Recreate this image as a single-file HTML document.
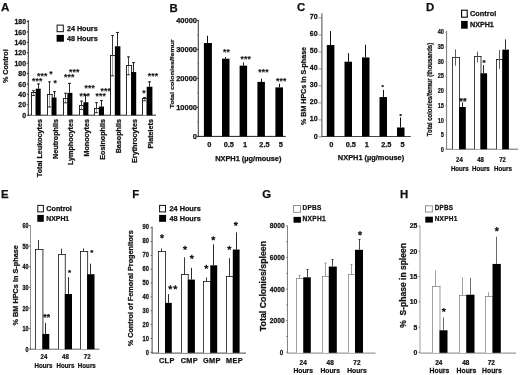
<!DOCTYPE html>
<html><head><meta charset="utf-8"><title>Figure</title>
<style>
html,body{margin:0;padding:0;background:#fff;}
body{width:520px;height:375px;overflow:hidden;font-family:"Liberation Sans",sans-serif;}
svg{display:block;font-family:"Liberation Sans",sans-serif;filter:blur(0.35px);}
</style></head><body>
<svg width="520" height="375" viewBox="0 0 520 375">
<rect x="0" y="0" width="520" height="375" fill="#fff"/>
<text transform="translate(0.90,11.40)" font-size="11.6" text-anchor="start" fill="#111" font-weight="bold" stroke="#111" stroke-width="0.25">A</text>
<line x1="28.30" y1="20.00" x2="28.30" y2="115.70" stroke="#111" stroke-width="0.9"/>
<line x1="27.90" y1="115.20" x2="156.00" y2="115.20" stroke="#111" stroke-width="0.9"/>
<line x1="26.80" y1="115.20" x2="28.30" y2="115.20" stroke="#111" stroke-width="0.8"/>
<text transform="translate(26.00,117.80) scale(0.96,1.0)" font-size="7.2" text-anchor="end" fill="#111" font-weight="bold" stroke="#111" stroke-width="0.25">0</text>
<line x1="26.80" y1="104.80" x2="28.30" y2="104.80" stroke="#111" stroke-width="0.8"/>
<text transform="translate(26.00,107.40) scale(0.96,1.0)" font-size="7.2" text-anchor="end" fill="#111" font-weight="bold" stroke="#111" stroke-width="0.25">20</text>
<line x1="26.80" y1="94.40" x2="28.30" y2="94.40" stroke="#111" stroke-width="0.8"/>
<text transform="translate(26.00,97.00) scale(0.96,1.0)" font-size="7.2" text-anchor="end" fill="#111" font-weight="bold" stroke="#111" stroke-width="0.25">40</text>
<line x1="26.80" y1="84.00" x2="28.30" y2="84.00" stroke="#111" stroke-width="0.8"/>
<text transform="translate(26.00,86.60) scale(0.96,1.0)" font-size="7.2" text-anchor="end" fill="#111" font-weight="bold" stroke="#111" stroke-width="0.25">60</text>
<line x1="26.80" y1="73.60" x2="28.30" y2="73.60" stroke="#111" stroke-width="0.8"/>
<text transform="translate(26.00,76.20) scale(0.96,1.0)" font-size="7.2" text-anchor="end" fill="#111" font-weight="bold" stroke="#111" stroke-width="0.25">80</text>
<line x1="26.80" y1="63.20" x2="28.30" y2="63.20" stroke="#111" stroke-width="0.8"/>
<text transform="translate(26.00,65.80) scale(0.96,1.0)" font-size="7.2" text-anchor="end" fill="#111" font-weight="bold" stroke="#111" stroke-width="0.25">100</text>
<line x1="26.80" y1="52.80" x2="28.30" y2="52.80" stroke="#111" stroke-width="0.8"/>
<text transform="translate(26.00,55.40) scale(0.96,1.0)" font-size="7.2" text-anchor="end" fill="#111" font-weight="bold" stroke="#111" stroke-width="0.25">120</text>
<line x1="26.80" y1="42.40" x2="28.30" y2="42.40" stroke="#111" stroke-width="0.8"/>
<text transform="translate(26.00,45.00) scale(0.96,1.0)" font-size="7.2" text-anchor="end" fill="#111" font-weight="bold" stroke="#111" stroke-width="0.25">140</text>
<line x1="26.80" y1="32.00" x2="28.30" y2="32.00" stroke="#111" stroke-width="0.8"/>
<text transform="translate(26.00,34.60) scale(0.96,1.0)" font-size="7.2" text-anchor="end" fill="#111" font-weight="bold" stroke="#111" stroke-width="0.25">160</text>
<line x1="26.80" y1="21.60" x2="28.30" y2="21.60" stroke="#111" stroke-width="0.8"/>
<text transform="translate(26.00,24.20) scale(0.96,1.0)" font-size="7.2" text-anchor="end" fill="#111" font-weight="bold" stroke="#111" stroke-width="0.25">180</text>
<text transform="translate(7.80,66.20) rotate(-90)" font-size="7.15" text-anchor="middle" fill="#111" font-weight="bold" stroke="#111" stroke-width="0.25">% Control</text>
<rect x="57.10" y="25.10" width="6.20" height="6.60" fill="#fff" stroke="#111" stroke-width="1.0"/>
<text transform="translate(66.90,30.90)" font-size="7.2" text-anchor="start" fill="#111" font-weight="bold" stroke="#111" stroke-width="0.25">24 Hours</text>
<rect x="56.60" y="34.90" width="7.30" height="6.80" fill="#000"/>
<text transform="translate(66.90,40.90)" font-size="7.2" text-anchor="start" fill="#111" font-weight="bold" stroke="#111" stroke-width="0.25">48 Hours</text>
<rect x="31.00" y="92.50" width="5.20" height="22.70" fill="#fff"/>
<line x1="31.50" y1="92.05" x2="31.50" y2="115.20" stroke="#111" stroke-width="0.9"/>
<line x1="31.00" y1="92.50" x2="36.70" y2="92.50" stroke="#111" stroke-width="0.9"/>
<line x1="36.20" y1="92.05" x2="36.20" y2="115.20" stroke="#111" stroke-width="0.9"/>
<rect x="35.70" y="88.68" width="5.00" height="26.52" fill="#000"/>
<line x1="33.50" y1="90.24" x2="33.50" y2="93.00" stroke="#222" stroke-width="0.9"/>
<line x1="33.50" y1="93.00" x2="33.50" y2="95.96" stroke="#555" stroke-width="0.6"/>
<line x1="32.00" y1="90.69" x2="35.00" y2="90.69" stroke="#222" stroke-width="0.9"/>
<line x1="32.00" y1="95.51" x2="35.00" y2="95.51" stroke="#222" stroke-width="0.9"/>
<line x1="38.50" y1="83.48" x2="38.50" y2="88.68" stroke="#111" stroke-width="0.9"/>
<line x1="37.00" y1="83.93" x2="40.00" y2="83.93" stroke="#111" stroke-width="0.9"/>
<text transform="translate(41.55,119.00) rotate(-90)" font-size="7.2" text-anchor="end" fill="#111" font-weight="bold" stroke="#111" stroke-width="0.25">Total Leukocytes</text>
<rect x="47.00" y="94.50" width="5.20" height="20.70" fill="#fff"/>
<line x1="47.50" y1="94.05" x2="47.50" y2="115.20" stroke="#111" stroke-width="0.9"/>
<line x1="47.00" y1="94.50" x2="52.70" y2="94.50" stroke="#111" stroke-width="0.9"/>
<line x1="52.20" y1="94.05" x2="52.20" y2="115.20" stroke="#111" stroke-width="0.9"/>
<rect x="51.70" y="97.52" width="4.80" height="17.68" fill="#000"/>
<line x1="49.50" y1="81.40" x2="49.50" y2="94.40" stroke="#222" stroke-width="0.9"/>
<line x1="49.50" y1="94.40" x2="49.50" y2="107.40" stroke="#555" stroke-width="0.6"/>
<line x1="48.00" y1="81.85" x2="51.00" y2="81.85" stroke="#222" stroke-width="0.9"/>
<line x1="48.00" y1="106.95" x2="51.00" y2="106.95" stroke="#222" stroke-width="0.9"/>
<line x1="54.50" y1="91.28" x2="54.50" y2="97.52" stroke="#111" stroke-width="0.9"/>
<line x1="53.00" y1="91.73" x2="56.00" y2="91.73" stroke="#111" stroke-width="0.9"/>
<text transform="translate(57.55,119.00) rotate(-90)" font-size="7.2" text-anchor="end" fill="#111" font-weight="bold" stroke="#111" stroke-width="0.25">Neutrophils</text>
<rect x="63.00" y="98.50" width="4.90" height="16.70" fill="#fff"/>
<line x1="63.50" y1="98.05" x2="63.50" y2="115.20" stroke="#111" stroke-width="0.9"/>
<line x1="63.00" y1="98.50" x2="68.40" y2="98.50" stroke="#111" stroke-width="0.9"/>
<line x1="67.90" y1="98.05" x2="67.90" y2="115.20" stroke="#111" stroke-width="0.9"/>
<rect x="67.40" y="92.84" width="5.00" height="22.36" fill="#000"/>
<line x1="65.50" y1="92.84" x2="65.50" y2="98.04" stroke="#222" stroke-width="0.9"/>
<line x1="65.50" y1="98.04" x2="65.50" y2="103.24" stroke="#555" stroke-width="0.6"/>
<line x1="64.00" y1="93.29" x2="67.00" y2="93.29" stroke="#222" stroke-width="0.9"/>
<line x1="64.00" y1="102.79" x2="67.00" y2="102.79" stroke="#222" stroke-width="0.9"/>
<line x1="69.50" y1="82.96" x2="69.50" y2="92.84" stroke="#111" stroke-width="0.9"/>
<line x1="68.00" y1="83.41" x2="71.00" y2="83.41" stroke="#111" stroke-width="0.9"/>
<text transform="translate(73.30,119.00) rotate(-90)" font-size="7.2" text-anchor="end" fill="#111" font-weight="bold" stroke="#111" stroke-width="0.25">Lymphocytes</text>
<rect x="79.00" y="105.50" width="4.90" height="9.70" fill="#fff"/>
<line x1="79.50" y1="105.05" x2="79.50" y2="115.20" stroke="#111" stroke-width="0.9"/>
<line x1="79.00" y1="105.50" x2="84.40" y2="105.50" stroke="#111" stroke-width="0.9"/>
<line x1="83.90" y1="105.05" x2="83.90" y2="115.20" stroke="#111" stroke-width="0.9"/>
<rect x="83.40" y="102.20" width="5.00" height="13.00" fill="#000"/>
<line x1="81.50" y1="100.64" x2="81.50" y2="105.01" stroke="#222" stroke-width="0.9"/>
<line x1="81.50" y1="105.01" x2="81.50" y2="110.00" stroke="#555" stroke-width="0.6"/>
<line x1="80.00" y1="101.09" x2="83.00" y2="101.09" stroke="#222" stroke-width="0.9"/>
<line x1="80.00" y1="109.55" x2="83.00" y2="109.55" stroke="#222" stroke-width="0.9"/>
<line x1="85.50" y1="94.92" x2="85.50" y2="102.20" stroke="#111" stroke-width="0.9"/>
<line x1="84.00" y1="95.37" x2="87.00" y2="95.37" stroke="#111" stroke-width="0.9"/>
<text transform="translate(89.30,119.00) rotate(-90)" font-size="7.2" text-anchor="end" fill="#111" font-weight="bold" stroke="#111" stroke-width="0.25">Monocytes</text>
<rect x="94.00" y="108.50" width="5.40" height="6.70" fill="#fff"/>
<line x1="94.50" y1="108.05" x2="94.50" y2="115.20" stroke="#111" stroke-width="0.9"/>
<line x1="94.00" y1="108.50" x2="99.90" y2="108.50" stroke="#111" stroke-width="0.9"/>
<line x1="99.40" y1="108.05" x2="99.40" y2="115.20" stroke="#111" stroke-width="0.9"/>
<rect x="98.90" y="106.52" width="5.10" height="8.68" fill="#000"/>
<line x1="96.50" y1="102.20" x2="96.50" y2="108.44" stroke="#222" stroke-width="0.9"/>
<line x1="96.50" y1="108.44" x2="96.50" y2="113.12" stroke="#555" stroke-width="0.6"/>
<line x1="95.00" y1="102.65" x2="98.00" y2="102.65" stroke="#222" stroke-width="0.9"/>
<line x1="95.00" y1="112.67" x2="98.00" y2="112.67" stroke="#222" stroke-width="0.9"/>
<line x1="101.50" y1="100.12" x2="101.50" y2="106.52" stroke="#111" stroke-width="0.9"/>
<line x1="100.00" y1="100.57" x2="103.00" y2="100.57" stroke="#111" stroke-width="0.9"/>
<text transform="translate(104.85,119.00) rotate(-90)" font-size="7.2" text-anchor="end" fill="#111" font-weight="bold" stroke="#111" stroke-width="0.25">Eosinophils</text>
<rect x="110.00" y="55.50" width="5.40" height="59.70" fill="#fff"/>
<line x1="110.50" y1="55.05" x2="110.50" y2="115.20" stroke="#111" stroke-width="0.9"/>
<line x1="110.00" y1="55.50" x2="115.90" y2="55.50" stroke="#111" stroke-width="0.9"/>
<line x1="115.40" y1="55.05" x2="115.40" y2="115.20" stroke="#111" stroke-width="0.9"/>
<rect x="114.90" y="46.25" width="5.50" height="68.95" fill="#000"/>
<line x1="112.50" y1="35.12" x2="112.50" y2="55.40" stroke="#222" stroke-width="0.9"/>
<line x1="112.50" y1="55.40" x2="112.50" y2="76.20" stroke="#555" stroke-width="0.6"/>
<line x1="111.00" y1="35.57" x2="114.00" y2="35.57" stroke="#222" stroke-width="0.9"/>
<line x1="111.00" y1="75.75" x2="114.00" y2="75.75" stroke="#222" stroke-width="0.9"/>
<line x1="117.50" y1="32.00" x2="117.50" y2="46.25" stroke="#111" stroke-width="0.9"/>
<line x1="116.00" y1="32.45" x2="119.00" y2="32.45" stroke="#111" stroke-width="0.9"/>
<text transform="translate(121.05,119.00) rotate(-90)" font-size="7.2" text-anchor="end" fill="#111" font-weight="bold" stroke="#111" stroke-width="0.25">Basophils</text>
<rect x="126.00" y="65.50" width="5.60" height="49.70" fill="#fff"/>
<line x1="126.50" y1="65.05" x2="126.50" y2="115.20" stroke="#111" stroke-width="0.9"/>
<line x1="126.00" y1="65.50" x2="132.10" y2="65.50" stroke="#111" stroke-width="0.9"/>
<line x1="131.60" y1="65.05" x2="131.60" y2="115.20" stroke="#111" stroke-width="0.9"/>
<rect x="131.10" y="72.04" width="5.10" height="43.16" fill="#000"/>
<line x1="128.50" y1="56.44" x2="128.50" y2="65.80" stroke="#222" stroke-width="0.9"/>
<line x1="128.50" y1="65.80" x2="128.50" y2="75.16" stroke="#555" stroke-width="0.6"/>
<line x1="127.00" y1="56.89" x2="130.00" y2="56.89" stroke="#222" stroke-width="0.9"/>
<line x1="127.00" y1="74.71" x2="130.00" y2="74.71" stroke="#222" stroke-width="0.9"/>
<line x1="133.50" y1="62.16" x2="133.50" y2="72.04" stroke="#111" stroke-width="0.9"/>
<line x1="132.00" y1="62.61" x2="135.00" y2="62.61" stroke="#111" stroke-width="0.9"/>
<text transform="translate(136.85,119.00) rotate(-90)" font-size="7.2" text-anchor="end" fill="#111" font-weight="bold" stroke="#111" stroke-width="0.25">Erythrocytes</text>
<rect x="142.00" y="98.50" width="5.20" height="16.70" fill="#fff"/>
<line x1="142.50" y1="98.05" x2="142.50" y2="115.20" stroke="#111" stroke-width="0.9"/>
<line x1="142.00" y1="98.50" x2="147.70" y2="98.50" stroke="#111" stroke-width="0.9"/>
<line x1="147.20" y1="98.05" x2="147.20" y2="115.20" stroke="#111" stroke-width="0.9"/>
<rect x="146.70" y="86.76" width="5.70" height="28.44" fill="#000"/>
<line x1="144.50" y1="97.00" x2="144.50" y2="98.77" stroke="#222" stroke-width="0.9"/>
<line x1="144.50" y1="98.77" x2="144.50" y2="101.16" stroke="#555" stroke-width="0.6"/>
<line x1="143.00" y1="97.45" x2="146.00" y2="97.45" stroke="#222" stroke-width="0.9"/>
<line x1="143.00" y1="100.71" x2="146.00" y2="100.71" stroke="#222" stroke-width="0.9"/>
<line x1="149.50" y1="81.40" x2="149.50" y2="86.76" stroke="#111" stroke-width="0.9"/>
<line x1="148.00" y1="81.85" x2="151.00" y2="81.85" stroke="#111" stroke-width="0.9"/>
<text transform="translate(152.80,119.00) rotate(-90)" font-size="7.2" text-anchor="end" fill="#111" font-weight="bold" stroke="#111" stroke-width="0.25">Platelets</text>
<text transform="translate(32.00,83.50)" font-size="8.5" text-anchor="start" fill="#111" font-weight="bold" letter-spacing="0.2" stroke="#111" stroke-width="0.1">***</text>
<text transform="translate(37.00,79.30)" font-size="8.5" text-anchor="start" fill="#111" font-weight="bold" letter-spacing="0.2" stroke="#111" stroke-width="0.1">***</text>
<text transform="translate(49.20,77.30)" font-size="8.5" text-anchor="start" fill="#111" font-weight="bold" letter-spacing="0.2" stroke="#111" stroke-width="0.1">*</text>
<text transform="translate(53.50,86.00)" font-size="8.5" text-anchor="start" fill="#111" font-weight="bold" letter-spacing="0.2" stroke="#111" stroke-width="0.1">*</text>
<text transform="translate(64.00,79.50)" font-size="8.5" text-anchor="start" fill="#111" font-weight="bold" letter-spacing="0.2" stroke="#111" stroke-width="0.1">***</text>
<text transform="translate(69.00,74.50)" font-size="8.5" text-anchor="start" fill="#111" font-weight="bold" letter-spacing="0.2" stroke="#111" stroke-width="0.1">***</text>
<text transform="translate(79.50,98.50)" font-size="8.5" text-anchor="start" fill="#111" font-weight="bold" letter-spacing="0.2" stroke="#111" stroke-width="0.1">***</text>
<text transform="translate(84.50,90.50)" font-size="8.5" text-anchor="start" fill="#111" font-weight="bold" letter-spacing="0.2" stroke="#111" stroke-width="0.1">***</text>
<text transform="translate(95.50,98.50)" font-size="8.5" text-anchor="start" fill="#111" font-weight="bold" letter-spacing="0.2" stroke="#111" stroke-width="0.1">***</text>
<text transform="translate(100.50,94.00)" font-size="8.5" text-anchor="start" fill="#111" font-weight="bold" letter-spacing="0.2" stroke="#111" stroke-width="0.1">***</text>
<text transform="translate(142.20,95.50)" font-size="8.5" text-anchor="start" fill="#111" font-weight="bold" letter-spacing="0.2" stroke="#111" stroke-width="0.1">*</text>
<text transform="translate(147.80,79.00)" font-size="8.5" text-anchor="start" fill="#111" font-weight="bold" letter-spacing="0.2" stroke="#111" stroke-width="0.1">***</text>
<text transform="translate(169.60,11.80)" font-size="11.4" text-anchor="start" fill="#111" font-weight="bold" stroke="#111" stroke-width="0.25">B</text>
<line x1="198.30" y1="20.00" x2="198.30" y2="136.90" stroke="#444" stroke-width="1.1"/>
<line x1="197.90" y1="136.40" x2="285.80" y2="136.40" stroke="#222" stroke-width="1.0"/>
<line x1="196.80" y1="136.40" x2="198.30" y2="136.40" stroke="#111" stroke-width="0.8"/>
<text transform="translate(197.00,138.50)" font-size="7.5" text-anchor="end" fill="#111" font-weight="bold" stroke="#111" stroke-width="0.25">0</text>
<line x1="196.80" y1="107.40" x2="198.30" y2="107.40" stroke="#111" stroke-width="0.8"/>
<text transform="translate(197.00,109.50)" font-size="7.5" text-anchor="end" fill="#111" font-weight="bold" stroke="#111" stroke-width="0.25">10000</text>
<line x1="196.80" y1="78.40" x2="198.30" y2="78.40" stroke="#111" stroke-width="0.8"/>
<text transform="translate(197.00,80.50)" font-size="7.5" text-anchor="end" fill="#111" font-weight="bold" stroke="#111" stroke-width="0.25">20000</text>
<line x1="196.80" y1="49.40" x2="198.30" y2="49.40" stroke="#111" stroke-width="0.8"/>
<text transform="translate(197.00,51.50)" font-size="7.5" text-anchor="end" fill="#111" font-weight="bold" stroke="#111" stroke-width="0.25">30000</text>
<line x1="196.80" y1="20.40" x2="198.30" y2="20.40" stroke="#111" stroke-width="0.8"/>
<text transform="translate(197.00,22.50)" font-size="7.5" text-anchor="end" fill="#111" font-weight="bold" stroke="#111" stroke-width="0.25">40000</text>
<line x1="197.10" y1="121.90" x2="198.30" y2="121.90" stroke="#555" stroke-width="0.6"/>
<line x1="197.10" y1="92.90" x2="198.30" y2="92.90" stroke="#555" stroke-width="0.6"/>
<line x1="197.10" y1="63.90" x2="198.30" y2="63.90" stroke="#555" stroke-width="0.6"/>
<line x1="197.10" y1="34.90" x2="198.30" y2="34.90" stroke="#555" stroke-width="0.6"/>
<text transform="translate(174.00,73.90) rotate(-90) scale(0.95,0.8)" font-size="7.5" text-anchor="middle" fill="#111" font-weight="bold" stroke="#111" stroke-width="0.25">Total colonies/femur</text>
<rect x="203.90" y="43.02" width="8.00" height="93.38" fill="#000"/>
<line x1="207.50" y1="35.77" x2="207.50" y2="43.02" stroke="#111" stroke-width="1.0"/>
<rect x="222.00" y="58.68" width="7.50" height="77.72" fill="#000"/>
<line x1="225.50" y1="56.94" x2="225.50" y2="58.68" stroke="#111" stroke-width="1.0"/>
<rect x="239.60" y="65.64" width="7.50" height="70.76" fill="#000"/>
<line x1="243.50" y1="62.45" x2="243.50" y2="65.64" stroke="#111" stroke-width="1.0"/>
<rect x="257.40" y="81.88" width="7.50" height="54.52" fill="#000"/>
<line x1="261.50" y1="78.69" x2="261.50" y2="81.88" stroke="#111" stroke-width="1.0"/>
<rect x="275.40" y="87.39" width="7.60" height="49.01" fill="#000"/>
<line x1="279.50" y1="83.77" x2="279.50" y2="87.39" stroke="#111" stroke-width="1.0"/>
<text transform="translate(223.00,54.50)" font-size="8.5" text-anchor="start" fill="#111" font-weight="bold" letter-spacing="0.2" stroke="#111" stroke-width="0.1">**</text>
<text transform="translate(240.50,62.00)" font-size="8.5" text-anchor="start" fill="#111" font-weight="bold" letter-spacing="0.2" stroke="#111" stroke-width="0.1">***</text>
<text transform="translate(258.30,75.00)" font-size="8.5" text-anchor="start" fill="#111" font-weight="bold" letter-spacing="0.2" stroke="#111" stroke-width="0.1">***</text>
<text transform="translate(276.00,84.00)" font-size="8.5" text-anchor="start" fill="#111" font-weight="bold" letter-spacing="0.2" stroke="#111" stroke-width="0.1">***</text>
<text transform="translate(209.30,146.90)" font-size="7.4" text-anchor="middle" fill="#111" font-weight="bold" stroke="#111" stroke-width="0.25">0</text>
<text transform="translate(228.80,146.90)" font-size="7.4" text-anchor="middle" fill="#111" font-weight="bold" stroke="#111" stroke-width="0.25">0.5</text>
<text transform="translate(245.00,146.90)" font-size="7.4" text-anchor="middle" fill="#111" font-weight="bold" stroke="#111" stroke-width="0.25">1</text>
<text transform="translate(264.50,146.90)" font-size="7.4" text-anchor="middle" fill="#111" font-weight="bold" stroke="#111" stroke-width="0.25">2.5</text>
<text transform="translate(280.80,146.90)" font-size="7.4" text-anchor="middle" fill="#111" font-weight="bold" stroke="#111" stroke-width="0.25">5</text>
<text transform="translate(248.30,160.50)" font-size="7.4" text-anchor="middle" fill="#111" font-weight="bold" stroke="#111" stroke-width="0.25">NXPH1 (µg/mouse)</text>
<text transform="translate(297.00,11.40)" font-size="11.4" text-anchor="start" fill="#111" font-weight="bold" stroke="#111" stroke-width="0.25">C</text>
<line x1="321.90" y1="13.20" x2="321.90" y2="137.00" stroke="#333" stroke-width="0.9"/>
<line x1="321.50" y1="136.50" x2="410.80" y2="136.50" stroke="#333" stroke-width="0.9"/>
<line x1="318.40" y1="136.90" x2="321.90" y2="136.90" stroke="#666" stroke-width="0.7"/>
<text transform="translate(317.60,138.50) scale(0.95,1.0)" font-size="7.4" text-anchor="end" fill="#111" font-weight="bold" stroke="#111" stroke-width="0.25">0</text>
<line x1="318.40" y1="119.90" x2="321.90" y2="119.90" stroke="#666" stroke-width="0.7"/>
<text transform="translate(317.60,121.47) scale(0.95,1.0)" font-size="7.4" text-anchor="end" fill="#111" font-weight="bold" stroke="#111" stroke-width="0.25">10</text>
<line x1="318.40" y1="102.90" x2="321.90" y2="102.90" stroke="#666" stroke-width="0.7"/>
<text transform="translate(317.60,104.44) scale(0.95,1.0)" font-size="7.4" text-anchor="end" fill="#111" font-weight="bold" stroke="#111" stroke-width="0.25">20</text>
<line x1="318.40" y1="85.90" x2="321.90" y2="85.90" stroke="#666" stroke-width="0.7"/>
<text transform="translate(317.60,87.41) scale(0.95,1.0)" font-size="7.4" text-anchor="end" fill="#111" font-weight="bold" stroke="#111" stroke-width="0.25">30</text>
<line x1="318.40" y1="68.90" x2="321.90" y2="68.90" stroke="#666" stroke-width="0.7"/>
<text transform="translate(317.60,70.38) scale(0.95,1.0)" font-size="7.4" text-anchor="end" fill="#111" font-weight="bold" stroke="#111" stroke-width="0.25">40</text>
<line x1="318.40" y1="51.90" x2="321.90" y2="51.90" stroke="#666" stroke-width="0.7"/>
<text transform="translate(317.60,53.35) scale(0.95,1.0)" font-size="7.4" text-anchor="end" fill="#111" font-weight="bold" stroke="#111" stroke-width="0.25">50</text>
<line x1="318.40" y1="34.90" x2="321.90" y2="34.90" stroke="#666" stroke-width="0.7"/>
<text transform="translate(317.60,36.32) scale(0.95,1.0)" font-size="7.4" text-anchor="end" fill="#111" font-weight="bold" stroke="#111" stroke-width="0.25">60</text>
<line x1="318.40" y1="17.90" x2="321.90" y2="17.90" stroke="#666" stroke-width="0.7"/>
<text transform="translate(317.60,19.29) scale(0.95,1.0)" font-size="7.4" text-anchor="end" fill="#111" font-weight="bold" stroke="#111" stroke-width="0.25">70</text>
<text transform="translate(306.30,86.00) rotate(-90)" font-size="7.1" text-anchor="middle" fill="#111" font-weight="bold" stroke="#111" stroke-width="0.25">% BM HPCs in S-phase</text>
<rect x="326.80" y="45.04" width="7.60" height="91.46" fill="#000"/>
<line x1="330.50" y1="31.10" x2="330.50" y2="45.04" stroke="#111" stroke-width="1.0"/>
<rect x="344.50" y="61.70" width="7.50" height="74.80" fill="#000"/>
<line x1="348.50" y1="53.20" x2="348.50" y2="61.70" stroke="#111" stroke-width="1.0"/>
<rect x="362.00" y="57.45" width="7.50" height="79.05" fill="#000"/>
<line x1="365.50" y1="44.70" x2="365.50" y2="57.45" stroke="#111" stroke-width="1.0"/>
<rect x="379.50" y="97.06" width="7.50" height="39.44" fill="#000"/>
<line x1="383.50" y1="89.92" x2="383.50" y2="97.06" stroke="#111" stroke-width="1.0"/>
<rect x="397.00" y="127.49" width="7.50" height="9.01" fill="#000"/>
<line x1="400.50" y1="117.46" x2="400.50" y2="127.49" stroke="#111" stroke-width="1.0"/>
<text transform="translate(382.60,88.50)" font-size="6" text-anchor="middle" fill="#111" font-weight="bold" stroke="#111" stroke-width="0.25">*</text>
<text transform="translate(400.60,118.00)" font-size="6" text-anchor="middle" fill="#111" font-weight="bold" stroke="#111" stroke-width="0.25">*</text>
<text transform="translate(331.30,146.60)" font-size="7.4" text-anchor="middle" fill="#111" font-weight="bold" stroke="#111" stroke-width="0.25">0</text>
<text transform="translate(350.80,146.60)" font-size="7.4" text-anchor="middle" fill="#111" font-weight="bold" stroke="#111" stroke-width="0.25">0.5</text>
<text transform="translate(366.80,146.60)" font-size="7.4" text-anchor="middle" fill="#111" font-weight="bold" stroke="#111" stroke-width="0.25">1</text>
<text transform="translate(386.30,146.60)" font-size="7.4" text-anchor="middle" fill="#111" font-weight="bold" stroke="#111" stroke-width="0.25">2.5</text>
<text transform="translate(402.50,146.60)" font-size="7.4" text-anchor="middle" fill="#111" font-weight="bold" stroke="#111" stroke-width="0.25">5</text>
<text transform="translate(371.00,160.20)" font-size="7.4" text-anchor="middle" fill="#111" font-weight="bold" stroke="#111" stroke-width="0.25">NXPH1 (µg/mouse)</text>
<text transform="translate(426.10,11.30)" font-size="11.4" text-anchor="start" fill="#111" font-weight="bold" stroke="#111" stroke-width="0.25">D</text>
<line x1="446.60" y1="31.00" x2="446.60" y2="149.70" stroke="#666" stroke-width="0.9"/>
<line x1="446.20" y1="149.20" x2="518.00" y2="149.20" stroke="#555" stroke-width="0.9"/>
<line x1="445.10" y1="149.20" x2="446.60" y2="149.20" stroke="#999" stroke-width="0.6"/>
<text transform="translate(443.90,152.10) scale(0.72,1.0)" font-size="7.8" text-anchor="end" fill="#111" font-weight="bold" stroke="#111" stroke-width="0.25">0</text>
<line x1="445.10" y1="134.60" x2="446.60" y2="134.60" stroke="#999" stroke-width="0.6"/>
<text transform="translate(443.90,137.35) scale(0.72,1.0)" font-size="7.8" text-anchor="end" fill="#111" font-weight="bold" stroke="#111" stroke-width="0.25">5</text>
<line x1="445.10" y1="120.00" x2="446.60" y2="120.00" stroke="#999" stroke-width="0.6"/>
<text transform="translate(443.90,122.60) scale(0.72,1.0)" font-size="7.8" text-anchor="end" fill="#111" font-weight="bold" stroke="#111" stroke-width="0.25">10</text>
<line x1="445.10" y1="105.40" x2="446.60" y2="105.40" stroke="#999" stroke-width="0.6"/>
<text transform="translate(443.90,107.85) scale(0.72,1.0)" font-size="7.8" text-anchor="end" fill="#111" font-weight="bold" stroke="#111" stroke-width="0.25">15</text>
<line x1="445.10" y1="90.80" x2="446.60" y2="90.80" stroke="#999" stroke-width="0.6"/>
<text transform="translate(443.90,93.10) scale(0.72,1.0)" font-size="7.8" text-anchor="end" fill="#111" font-weight="bold" stroke="#111" stroke-width="0.25">20</text>
<line x1="445.10" y1="76.20" x2="446.60" y2="76.20" stroke="#999" stroke-width="0.6"/>
<text transform="translate(443.90,78.35) scale(0.72,1.0)" font-size="7.8" text-anchor="end" fill="#111" font-weight="bold" stroke="#111" stroke-width="0.25">25</text>
<line x1="445.10" y1="61.60" x2="446.60" y2="61.60" stroke="#999" stroke-width="0.6"/>
<text transform="translate(443.90,63.60) scale(0.72,1.0)" font-size="7.8" text-anchor="end" fill="#111" font-weight="bold" stroke="#111" stroke-width="0.25">30</text>
<line x1="445.10" y1="47.00" x2="446.60" y2="47.00" stroke="#999" stroke-width="0.6"/>
<text transform="translate(443.90,48.85) scale(0.72,1.0)" font-size="7.8" text-anchor="end" fill="#111" font-weight="bold" stroke="#111" stroke-width="0.25">35</text>
<line x1="445.10" y1="32.40" x2="446.60" y2="32.40" stroke="#999" stroke-width="0.6"/>
<text transform="translate(443.90,34.10) scale(0.72,1.0)" font-size="7.8" text-anchor="end" fill="#111" font-weight="bold" stroke="#111" stroke-width="0.25">40</text>
<text transform="translate(432.40,89.50) rotate(-90) scale(0.85,1.0)" font-size="7" text-anchor="middle" fill="#111" font-weight="bold" stroke="#111" stroke-width="0.25">Total colonies/femur (thousands)</text>
<rect x="461.60" y="10.20" width="5.60" height="7.00" fill="#fff" stroke="#000" stroke-width="1.1"/>
<text transform="translate(470.00,16.10)" font-size="7.4" text-anchor="start" fill="#111" font-weight="bold" stroke="#111" stroke-width="0.25">Control</text>
<rect x="461.10" y="20.90" width="6.60" height="7.80" fill="#000"/>
<text transform="translate(470.00,26.90) scale(1.02,1.0)" font-size="7.0" text-anchor="start" fill="#111" font-weight="bold" stroke="#111" stroke-width="0.25">NXPH1</text>
<rect x="452.00" y="57.50" width="7.50" height="91.70" fill="#fff"/>
<line x1="452.50" y1="57.10" x2="452.50" y2="149.20" stroke="#111" stroke-width="0.8"/>
<line x1="452.00" y1="57.50" x2="460.00" y2="57.50" stroke="#111" stroke-width="0.8"/>
<line x1="459.50" y1="57.10" x2="459.50" y2="149.20" stroke="#111" stroke-width="0.8"/>
<rect x="459.00" y="107.01" width="6.80" height="42.19" fill="#000"/>
<line x1="455.50" y1="49.34" x2="455.50" y2="65.69" stroke="#333" stroke-width="0.8"/>
<line x1="462.50" y1="102.48" x2="462.50" y2="107.01" stroke="#111" stroke-width="0.9"/>
<rect x="474.00" y="56.50" width="7.00" height="92.70" fill="#fff"/>
<line x1="474.50" y1="56.10" x2="474.50" y2="149.20" stroke="#111" stroke-width="0.8"/>
<line x1="474.00" y1="56.50" x2="481.50" y2="56.50" stroke="#111" stroke-width="0.8"/>
<line x1="481.00" y1="56.10" x2="481.00" y2="149.20" stroke="#111" stroke-width="0.8"/>
<rect x="480.50" y="73.28" width="6.60" height="75.92" fill="#000"/>
<line x1="477.50" y1="51.67" x2="477.50" y2="62.48" stroke="#333" stroke-width="0.8"/>
<line x1="483.50" y1="65.10" x2="483.50" y2="73.28" stroke="#111" stroke-width="0.9"/>
<rect x="496.00" y="59.50" width="6.80" height="89.70" fill="#fff"/>
<line x1="496.50" y1="59.10" x2="496.50" y2="149.20" stroke="#111" stroke-width="0.8"/>
<line x1="496.00" y1="59.50" x2="503.30" y2="59.50" stroke="#111" stroke-width="0.8"/>
<line x1="502.80" y1="59.10" x2="502.80" y2="149.20" stroke="#111" stroke-width="0.8"/>
<rect x="502.30" y="49.63" width="6.60" height="99.57" fill="#000"/>
<line x1="499.50" y1="49.92" x2="499.50" y2="68.90" stroke="#333" stroke-width="0.8"/>
<line x1="505.50" y1="39.41" x2="505.50" y2="49.63" stroke="#111" stroke-width="0.9"/>
<text transform="translate(462.90,104.40)" font-size="9" text-anchor="middle" fill="#111" font-weight="bold" letter-spacing="0.2" stroke="#111" stroke-width="0.25">**</text>
<text transform="translate(484.00,65.00)" font-size="8" text-anchor="middle" fill="#111" font-weight="bold" stroke="#111" stroke-width="0.25">*</text>
<text transform="translate(459.40,162.00) scale(0.85,1.0)" font-size="7" text-anchor="middle" fill="#111" font-weight="bold" stroke="#111" stroke-width="0.25">24</text>
<text transform="translate(459.80,170.50) scale(0.88,1.0)" font-size="7" text-anchor="middle" fill="#111" font-weight="bold" stroke="#111" stroke-width="0.25">Hours</text>
<text transform="translate(480.50,162.00) scale(0.85,1.0)" font-size="7" text-anchor="middle" fill="#111" font-weight="bold" stroke="#111" stroke-width="0.25">48</text>
<text transform="translate(480.90,170.50) scale(0.88,1.0)" font-size="7" text-anchor="middle" fill="#111" font-weight="bold" stroke="#111" stroke-width="0.25">Hours</text>
<text transform="translate(502.60,162.00) scale(0.85,1.0)" font-size="7" text-anchor="middle" fill="#111" font-weight="bold" stroke="#111" stroke-width="0.25">72</text>
<text transform="translate(503.00,170.50) scale(0.88,1.0)" font-size="7" text-anchor="middle" fill="#111" font-weight="bold" stroke="#111" stroke-width="0.25">Hours</text>
<text transform="translate(1.00,197.70)" font-size="11.4" text-anchor="start" fill="#111" font-weight="bold" stroke="#111" stroke-width="0.25">E</text>
<line x1="30.50" y1="225.50" x2="30.50" y2="349.70" stroke="#888" stroke-width="0.9"/>
<line x1="30.10" y1="349.20" x2="99.50" y2="349.20" stroke="#555" stroke-width="0.9"/>
<line x1="29.00" y1="349.20" x2="30.50" y2="349.20" stroke="#444" stroke-width="0.8"/>
<text transform="translate(28.60,351.80) scale(0.8,1.0)" font-size="6.8" text-anchor="end" fill="#111" font-weight="bold" stroke="#111" stroke-width="0.25">0</text>
<line x1="29.00" y1="328.60" x2="30.50" y2="328.60" stroke="#444" stroke-width="0.8"/>
<text transform="translate(28.60,331.20) scale(0.8,1.0)" font-size="6.8" text-anchor="end" fill="#111" font-weight="bold" stroke="#111" stroke-width="0.25">10</text>
<line x1="29.00" y1="308.00" x2="30.50" y2="308.00" stroke="#444" stroke-width="0.8"/>
<text transform="translate(28.60,310.60) scale(0.8,1.0)" font-size="6.8" text-anchor="end" fill="#111" font-weight="bold" stroke="#111" stroke-width="0.25">20</text>
<line x1="29.00" y1="287.40" x2="30.50" y2="287.40" stroke="#444" stroke-width="0.8"/>
<text transform="translate(28.60,290.00) scale(0.8,1.0)" font-size="6.8" text-anchor="end" fill="#111" font-weight="bold" stroke="#111" stroke-width="0.25">30</text>
<line x1="29.00" y1="266.80" x2="30.50" y2="266.80" stroke="#444" stroke-width="0.8"/>
<text transform="translate(28.60,269.40) scale(0.8,1.0)" font-size="6.8" text-anchor="end" fill="#111" font-weight="bold" stroke="#111" stroke-width="0.25">40</text>
<line x1="29.00" y1="246.20" x2="30.50" y2="246.20" stroke="#444" stroke-width="0.8"/>
<text transform="translate(28.60,248.80) scale(0.8,1.0)" font-size="6.8" text-anchor="end" fill="#111" font-weight="bold" stroke="#111" stroke-width="0.25">50</text>
<line x1="29.00" y1="225.60" x2="30.50" y2="225.60" stroke="#444" stroke-width="0.8"/>
<text transform="translate(28.60,228.20) scale(0.8,1.0)" font-size="6.8" text-anchor="end" fill="#111" font-weight="bold" stroke="#111" stroke-width="0.25">60</text>
<text transform="translate(17.80,285.30) rotate(-90)" font-size="7.3" text-anchor="middle" fill="#111" font-weight="bold" stroke="#111" stroke-width="0.25">% BM HPCs in S-phase</text>
<rect x="37.80" y="205.40" width="5.60" height="6.50" fill="#fff" stroke="#111" stroke-width="1.0"/>
<text transform="translate(46.30,211.00)" font-size="7.2" text-anchor="start" fill="#111" font-weight="bold" stroke="#111" stroke-width="0.25">Control</text>
<rect x="37.30" y="214.90" width="6.50" height="6.90" fill="#000"/>
<text transform="translate(46.30,221.10) scale(0.98,1.0)" font-size="7.0" text-anchor="start" fill="#111" font-weight="bold" stroke="#111" stroke-width="0.25">NXPH1</text>
<rect x="35.00" y="249.50" width="7.90" height="99.70" fill="#fff"/>
<line x1="35.50" y1="249.10" x2="35.50" y2="349.20" stroke="#111" stroke-width="0.8"/>
<line x1="35.00" y1="249.50" x2="43.40" y2="249.50" stroke="#111" stroke-width="0.8"/>
<line x1="42.90" y1="249.10" x2="42.90" y2="349.20" stroke="#111" stroke-width="0.8"/>
<rect x="42.40" y="333.96" width="6.90" height="15.24" fill="#000"/>
<line x1="38.50" y1="240.02" x2="38.50" y2="249.29" stroke="#222" stroke-width="0.9"/>
<line x1="45.50" y1="323.04" x2="45.50" y2="333.96" stroke="#111" stroke-width="0.9"/>
<rect x="58.00" y="254.50" width="7.30" height="94.70" fill="#fff"/>
<line x1="58.50" y1="254.10" x2="58.50" y2="349.20" stroke="#111" stroke-width="0.8"/>
<line x1="58.00" y1="254.50" x2="65.80" y2="254.50" stroke="#111" stroke-width="0.8"/>
<line x1="65.30" y1="254.10" x2="65.30" y2="349.20" stroke="#111" stroke-width="0.8"/>
<rect x="64.80" y="293.99" width="7.20" height="55.21" fill="#000"/>
<line x1="61.50" y1="248.67" x2="61.50" y2="254.23" stroke="#222" stroke-width="0.9"/>
<line x1="68.50" y1="277.10" x2="68.50" y2="293.99" stroke="#111" stroke-width="0.9"/>
<rect x="80.00" y="251.50" width="7.60" height="97.70" fill="#fff"/>
<line x1="80.50" y1="251.10" x2="80.50" y2="349.20" stroke="#111" stroke-width="0.8"/>
<line x1="80.00" y1="251.50" x2="88.10" y2="251.50" stroke="#111" stroke-width="0.8"/>
<line x1="87.60" y1="251.10" x2="87.60" y2="349.20" stroke="#111" stroke-width="0.8"/>
<rect x="87.10" y="274.22" width="7.40" height="74.98" fill="#000"/>
<line x1="83.50" y1="248.47" x2="83.50" y2="251.14" stroke="#222" stroke-width="0.9"/>
<line x1="90.50" y1="263.71" x2="90.50" y2="274.22" stroke="#111" stroke-width="0.9"/>
<text transform="translate(46.70,319.60)" font-size="8.5" text-anchor="middle" fill="#111" font-weight="bold" letter-spacing="0.2" stroke="#111" stroke-width="0.25">**</text>
<text transform="translate(69.60,274.80)" font-size="8" text-anchor="middle" fill="#111" font-weight="bold" stroke="#111" stroke-width="0.25">*</text>
<text transform="translate(91.80,255.30)" font-size="8" text-anchor="middle" fill="#111" font-weight="bold" stroke="#111" stroke-width="0.25">*</text>
<text transform="translate(43.90,358.70) scale(0.85,1.0)" font-size="7.2" text-anchor="middle" fill="#111" font-weight="bold" stroke="#111" stroke-width="0.25">24</text>
<text transform="translate(43.40,367.60) scale(0.85,1.0)" font-size="7.3" text-anchor="middle" fill="#111" font-weight="bold" stroke="#111" stroke-width="0.25">Hours</text>
<text transform="translate(65.50,358.70) scale(0.85,1.0)" font-size="7.2" text-anchor="middle" fill="#111" font-weight="bold" stroke="#111" stroke-width="0.25">48</text>
<text transform="translate(65.50,367.60) scale(0.85,1.0)" font-size="7.3" text-anchor="middle" fill="#111" font-weight="bold" stroke="#111" stroke-width="0.25">Hours</text>
<text transform="translate(87.20,358.70) scale(0.85,1.0)" font-size="7.2" text-anchor="middle" fill="#111" font-weight="bold" stroke="#111" stroke-width="0.25">72</text>
<text transform="translate(86.80,367.60) scale(0.85,1.0)" font-size="7.3" text-anchor="middle" fill="#111" font-weight="bold" stroke="#111" stroke-width="0.25">Hours</text>
<text transform="translate(132.30,197.70)" font-size="11.4" text-anchor="start" fill="#111" font-weight="bold" stroke="#111" stroke-width="0.25">F</text>
<line x1="152.10" y1="226.50" x2="152.10" y2="353.30" stroke="#333" stroke-width="0.9"/>
<line x1="151.70" y1="353.10" x2="246.00" y2="353.10" stroke="#333" stroke-width="0.9"/>
<line x1="150.60" y1="352.30" x2="152.10" y2="352.30" stroke="#444" stroke-width="0.8"/>
<text transform="translate(148.90,354.75) scale(0.82,1.0)" font-size="7" text-anchor="end" fill="#111" font-weight="bold" stroke="#111" stroke-width="0.25">0</text>
<line x1="150.60" y1="338.45" x2="152.10" y2="338.45" stroke="#444" stroke-width="0.8"/>
<text transform="translate(148.90,340.83) scale(0.82,1.0)" font-size="7" text-anchor="end" fill="#111" font-weight="bold" stroke="#111" stroke-width="0.25">10</text>
<line x1="150.60" y1="324.60" x2="152.10" y2="324.60" stroke="#444" stroke-width="0.8"/>
<text transform="translate(148.90,326.91) scale(0.82,1.0)" font-size="7" text-anchor="end" fill="#111" font-weight="bold" stroke="#111" stroke-width="0.25">20</text>
<line x1="150.60" y1="310.75" x2="152.10" y2="310.75" stroke="#444" stroke-width="0.8"/>
<text transform="translate(148.90,312.99) scale(0.82,1.0)" font-size="7" text-anchor="end" fill="#111" font-weight="bold" stroke="#111" stroke-width="0.25">30</text>
<line x1="150.60" y1="296.90" x2="152.10" y2="296.90" stroke="#444" stroke-width="0.8"/>
<text transform="translate(148.90,299.07) scale(0.82,1.0)" font-size="7" text-anchor="end" fill="#111" font-weight="bold" stroke="#111" stroke-width="0.25">40</text>
<line x1="150.60" y1="283.05" x2="152.10" y2="283.05" stroke="#444" stroke-width="0.8"/>
<text transform="translate(148.90,285.15) scale(0.82,1.0)" font-size="7" text-anchor="end" fill="#111" font-weight="bold" stroke="#111" stroke-width="0.25">50</text>
<line x1="150.60" y1="269.20" x2="152.10" y2="269.20" stroke="#444" stroke-width="0.8"/>
<text transform="translate(148.90,271.23) scale(0.82,1.0)" font-size="7" text-anchor="end" fill="#111" font-weight="bold" stroke="#111" stroke-width="0.25">60</text>
<line x1="150.60" y1="255.35" x2="152.10" y2="255.35" stroke="#444" stroke-width="0.8"/>
<text transform="translate(148.90,257.31) scale(0.82,1.0)" font-size="7" text-anchor="end" fill="#111" font-weight="bold" stroke="#111" stroke-width="0.25">70</text>
<line x1="150.60" y1="241.50" x2="152.10" y2="241.50" stroke="#444" stroke-width="0.8"/>
<text transform="translate(148.90,243.39) scale(0.82,1.0)" font-size="7" text-anchor="end" fill="#111" font-weight="bold" stroke="#111" stroke-width="0.25">80</text>
<line x1="150.60" y1="227.65" x2="152.10" y2="227.65" stroke="#444" stroke-width="0.8"/>
<text transform="translate(148.90,229.47) scale(0.82,1.0)" font-size="7" text-anchor="end" fill="#111" font-weight="bold" stroke="#111" stroke-width="0.25">90</text>
<text transform="translate(133.10,288.30) rotate(-90)" font-size="7.25" text-anchor="middle" fill="#111" font-weight="bold" stroke="#111" stroke-width="0.25">% Control of Femoral Progenitors</text>
<rect x="159.60" y="205.40" width="5.90" height="6.50" fill="#fff" stroke="#111" stroke-width="1.0"/>
<text transform="translate(169.50,211.00)" font-size="7.3" text-anchor="start" fill="#111" font-weight="bold" stroke="#111" stroke-width="0.25">24 Hours</text>
<rect x="159.10" y="214.90" width="7.00" height="6.90" fill="#000"/>
<text transform="translate(169.50,221.30)" font-size="7.3" text-anchor="start" fill="#111" font-weight="bold" stroke="#111" stroke-width="0.25">48 Hours</text>
<rect x="158.00" y="251.50" width="7.50" height="101.30" fill="#fff"/>
<line x1="158.50" y1="251.10" x2="158.50" y2="352.80" stroke="#111" stroke-width="0.8"/>
<line x1="158.00" y1="251.50" x2="166.00" y2="251.50" stroke="#111" stroke-width="0.8"/>
<line x1="165.50" y1="251.10" x2="165.50" y2="352.80" stroke="#111" stroke-width="0.8"/>
<rect x="165.00" y="302.86" width="6.80" height="49.94" fill="#000"/>
<line x1="161.50" y1="248.43" x2="161.50" y2="251.61" stroke="#222" stroke-width="0.9"/>
<line x1="168.50" y1="294.13" x2="168.50" y2="302.86" stroke="#111" stroke-width="0.9"/>
<rect x="181.00" y="274.50" width="7.30" height="78.30" fill="#fff"/>
<line x1="181.50" y1="274.10" x2="181.50" y2="352.80" stroke="#111" stroke-width="0.8"/>
<line x1="181.00" y1="274.50" x2="188.80" y2="274.50" stroke="#111" stroke-width="0.8"/>
<line x1="188.30" y1="274.10" x2="188.30" y2="352.80" stroke="#111" stroke-width="0.8"/>
<rect x="187.80" y="279.59" width="7.10" height="73.21" fill="#000"/>
<line x1="184.50" y1="257.29" x2="184.50" y2="274.74" stroke="#222" stroke-width="0.9"/>
<line x1="191.50" y1="267.81" x2="191.50" y2="279.59" stroke="#111" stroke-width="0.9"/>
<rect x="203.00" y="281.50" width="7.80" height="71.30" fill="#fff"/>
<line x1="203.50" y1="281.10" x2="203.50" y2="352.80" stroke="#111" stroke-width="0.8"/>
<line x1="203.00" y1="281.50" x2="211.30" y2="281.50" stroke="#111" stroke-width="0.8"/>
<line x1="210.80" y1="281.10" x2="210.80" y2="352.80" stroke="#111" stroke-width="0.8"/>
<rect x="210.30" y="265.32" width="6.90" height="87.48" fill="#000"/>
<line x1="206.50" y1="277.51" x2="206.50" y2="281.67" stroke="#222" stroke-width="0.9"/>
<line x1="213.50" y1="244.27" x2="213.50" y2="265.32" stroke="#111" stroke-width="0.9"/>
<rect x="226.00" y="276.50" width="7.30" height="76.30" fill="#fff"/>
<line x1="226.50" y1="276.10" x2="226.50" y2="352.80" stroke="#111" stroke-width="0.8"/>
<line x1="226.00" y1="276.50" x2="233.80" y2="276.50" stroke="#111" stroke-width="0.8"/>
<line x1="233.30" y1="276.10" x2="233.30" y2="352.80" stroke="#111" stroke-width="0.8"/>
<rect x="232.80" y="249.53" width="6.80" height="103.27" fill="#000"/>
<line x1="229.50" y1="258.12" x2="229.50" y2="276.54" stroke="#222" stroke-width="0.9"/>
<line x1="236.50" y1="232.36" x2="236.50" y2="249.53" stroke="#111" stroke-width="0.9"/>
<line x1="162.00" y1="236.30" x2="162.00" y2="234.15" stroke="#111" stroke-width="1.2"/>
<line x1="162.00" y1="236.30" x2="164.04" y2="235.64" stroke="#111" stroke-width="1.2"/>
<line x1="162.00" y1="236.30" x2="163.26" y2="238.04" stroke="#111" stroke-width="1.2"/>
<line x1="162.00" y1="236.30" x2="160.74" y2="238.04" stroke="#111" stroke-width="1.2"/>
<line x1="162.00" y1="236.30" x2="159.96" y2="235.64" stroke="#111" stroke-width="1.2"/>
<line x1="170.30" y1="287.50" x2="170.30" y2="285.35" stroke="#111" stroke-width="1.2"/>
<line x1="170.30" y1="287.50" x2="172.34" y2="286.84" stroke="#111" stroke-width="1.2"/>
<line x1="170.30" y1="287.50" x2="171.56" y2="289.24" stroke="#111" stroke-width="1.2"/>
<line x1="170.30" y1="287.50" x2="169.04" y2="289.24" stroke="#111" stroke-width="1.2"/>
<line x1="170.30" y1="287.50" x2="168.26" y2="286.84" stroke="#111" stroke-width="1.2"/>
<line x1="175.30" y1="287.50" x2="175.30" y2="285.35" stroke="#111" stroke-width="1.2"/>
<line x1="175.30" y1="287.50" x2="177.34" y2="286.84" stroke="#111" stroke-width="1.2"/>
<line x1="175.30" y1="287.50" x2="176.56" y2="289.24" stroke="#111" stroke-width="1.2"/>
<line x1="175.30" y1="287.50" x2="174.04" y2="289.24" stroke="#111" stroke-width="1.2"/>
<line x1="175.30" y1="287.50" x2="173.26" y2="286.84" stroke="#111" stroke-width="1.2"/>
<line x1="185.00" y1="248.00" x2="185.00" y2="245.85" stroke="#111" stroke-width="1.2"/>
<line x1="185.00" y1="248.00" x2="187.04" y2="247.34" stroke="#111" stroke-width="1.2"/>
<line x1="185.00" y1="248.00" x2="186.26" y2="249.74" stroke="#111" stroke-width="1.2"/>
<line x1="185.00" y1="248.00" x2="183.74" y2="249.74" stroke="#111" stroke-width="1.2"/>
<line x1="185.00" y1="248.00" x2="182.96" y2="247.34" stroke="#111" stroke-width="1.2"/>
<line x1="191.80" y1="257.00" x2="191.80" y2="254.85" stroke="#111" stroke-width="1.2"/>
<line x1="191.80" y1="257.00" x2="193.84" y2="256.34" stroke="#111" stroke-width="1.2"/>
<line x1="191.80" y1="257.00" x2="193.06" y2="258.74" stroke="#111" stroke-width="1.2"/>
<line x1="191.80" y1="257.00" x2="190.54" y2="258.74" stroke="#111" stroke-width="1.2"/>
<line x1="191.80" y1="257.00" x2="189.76" y2="256.34" stroke="#111" stroke-width="1.2"/>
<line x1="206.30" y1="267.00" x2="206.30" y2="264.85" stroke="#111" stroke-width="1.2"/>
<line x1="206.30" y1="267.00" x2="208.34" y2="266.34" stroke="#111" stroke-width="1.2"/>
<line x1="206.30" y1="267.00" x2="207.56" y2="268.74" stroke="#111" stroke-width="1.2"/>
<line x1="206.30" y1="267.00" x2="205.04" y2="268.74" stroke="#111" stroke-width="1.2"/>
<line x1="206.30" y1="267.00" x2="204.26" y2="266.34" stroke="#111" stroke-width="1.2"/>
<line x1="213.30" y1="238.30" x2="213.30" y2="236.15" stroke="#111" stroke-width="1.2"/>
<line x1="213.30" y1="238.30" x2="215.34" y2="237.64" stroke="#111" stroke-width="1.2"/>
<line x1="213.30" y1="238.30" x2="214.56" y2="240.04" stroke="#111" stroke-width="1.2"/>
<line x1="213.30" y1="238.30" x2="212.04" y2="240.04" stroke="#111" stroke-width="1.2"/>
<line x1="213.30" y1="238.30" x2="211.26" y2="237.64" stroke="#111" stroke-width="1.2"/>
<line x1="229.30" y1="248.00" x2="229.30" y2="245.85" stroke="#111" stroke-width="1.2"/>
<line x1="229.30" y1="248.00" x2="231.34" y2="247.34" stroke="#111" stroke-width="1.2"/>
<line x1="229.30" y1="248.00" x2="230.56" y2="249.74" stroke="#111" stroke-width="1.2"/>
<line x1="229.30" y1="248.00" x2="228.04" y2="249.74" stroke="#111" stroke-width="1.2"/>
<line x1="229.30" y1="248.00" x2="227.26" y2="247.34" stroke="#111" stroke-width="1.2"/>
<line x1="235.80" y1="223.80" x2="235.80" y2="221.65" stroke="#111" stroke-width="1.2"/>
<line x1="235.80" y1="223.80" x2="237.84" y2="223.14" stroke="#111" stroke-width="1.2"/>
<line x1="235.80" y1="223.80" x2="237.06" y2="225.54" stroke="#111" stroke-width="1.2"/>
<line x1="235.80" y1="223.80" x2="234.54" y2="225.54" stroke="#111" stroke-width="1.2"/>
<line x1="235.80" y1="223.80" x2="233.76" y2="223.14" stroke="#111" stroke-width="1.2"/>
<text transform="translate(166.80,363.30)" font-size="7.3" text-anchor="middle" fill="#111" font-weight="bold" letter-spacing="0.35" stroke="#111" stroke-width="0.25">CLP</text>
<text transform="translate(189.30,363.30)" font-size="7.3" text-anchor="middle" fill="#111" font-weight="bold" letter-spacing="0.35" stroke="#111" stroke-width="0.25">CMP</text>
<text transform="translate(211.80,363.30)" font-size="7.3" text-anchor="middle" fill="#111" font-weight="bold" letter-spacing="0.35" stroke="#111" stroke-width="0.25">GMP</text>
<text transform="translate(234.50,363.30)" font-size="7.3" text-anchor="middle" fill="#111" font-weight="bold" letter-spacing="0.35" stroke="#111" stroke-width="0.25">MEP</text>
<text transform="translate(262.30,197.70)" font-size="11.4" text-anchor="start" fill="#111" font-weight="bold" stroke="#111" stroke-width="0.25">G</text>
<line x1="287.50" y1="225.50" x2="287.50" y2="352.80" stroke="#666" stroke-width="0.8"/>
<line x1="287.10" y1="353.10" x2="375.50" y2="353.10" stroke="#666" stroke-width="0.8"/>
<line x1="286.00" y1="352.30" x2="287.50" y2="352.30" stroke="#666" stroke-width="0.7"/>
<line x1="286.00" y1="336.50" x2="287.50" y2="336.50" stroke="#666" stroke-width="0.7"/>
<line x1="286.00" y1="320.70" x2="287.50" y2="320.70" stroke="#666" stroke-width="0.7"/>
<line x1="286.00" y1="304.90" x2="287.50" y2="304.90" stroke="#666" stroke-width="0.7"/>
<line x1="286.00" y1="289.10" x2="287.50" y2="289.10" stroke="#666" stroke-width="0.7"/>
<line x1="286.00" y1="273.30" x2="287.50" y2="273.30" stroke="#666" stroke-width="0.7"/>
<line x1="286.00" y1="257.50" x2="287.50" y2="257.50" stroke="#666" stroke-width="0.7"/>
<line x1="286.00" y1="241.70" x2="287.50" y2="241.70" stroke="#666" stroke-width="0.7"/>
<line x1="286.00" y1="225.90" x2="287.50" y2="225.90" stroke="#666" stroke-width="0.7"/>
<text transform="translate(283.20,355.10) scale(0.95,1.0)" font-size="6.6" text-anchor="end" fill="#111" font-weight="bold" stroke="#111" stroke-width="0.25">0</text>
<text transform="translate(284.60,323.40) scale(0.95,1.0)" font-size="7.0" text-anchor="end" fill="#111" font-weight="bold" stroke="#111" stroke-width="0.25">2000</text>
<text transform="translate(284.60,291.70) scale(0.95,1.0)" font-size="7.0" text-anchor="end" fill="#111" font-weight="bold" stroke="#111" stroke-width="0.25">4000</text>
<text transform="translate(284.60,260.00) scale(0.95,1.0)" font-size="7.0" text-anchor="end" fill="#111" font-weight="bold" stroke="#111" stroke-width="0.25">6000</text>
<text transform="translate(284.60,228.30) scale(0.95,1.0)" font-size="7.0" text-anchor="end" fill="#111" font-weight="bold" stroke="#111" stroke-width="0.25">8000</text>
<text transform="translate(266.30,286.00) rotate(-90)" font-size="8.8" text-anchor="middle" fill="#111" font-weight="bold" stroke="#111" stroke-width="0.25">Total Colonies/spleen</text>
<rect x="293.60" y="205.50" width="6.80" height="6.80" fill="#fff" stroke="#777" stroke-width="0.8"/>
<text transform="translate(302.60,210.20) scale(0.94,1.0)" font-size="6.9" text-anchor="start" fill="#111" font-weight="bold" letter-spacing="0.25" stroke="#111" stroke-width="0.25">DPBS</text>
<rect x="293.50" y="216.90" width="7.40" height="5.80" fill="#000"/>
<text transform="translate(302.60,221.40) scale(0.96,1.0)" font-size="6.9" text-anchor="start" fill="#111" font-weight="bold" letter-spacing="0.25" stroke="#111" stroke-width="0.25">NXPH1</text>
<rect x="296.00" y="278.50" width="7.80" height="74.30" fill="#fff"/>
<line x1="296.50" y1="278.15" x2="296.50" y2="352.80" stroke="#777" stroke-width="0.7"/>
<line x1="296.00" y1="278.50" x2="304.30" y2="278.50" stroke="#777" stroke-width="0.7"/>
<line x1="303.80" y1="278.15" x2="303.80" y2="352.80" stroke="#777" stroke-width="0.7"/>
<rect x="303.30" y="277.30" width="7.50" height="75.50" fill="#000"/>
<line x1="299.50" y1="275.20" x2="299.50" y2="278.29" stroke="#777" stroke-width="0.7"/>
<line x1="298.50" y1="275.55" x2="300.50" y2="275.55" stroke="#777" stroke-width="0.7"/>
<line x1="307.50" y1="269.03" x2="307.50" y2="277.30" stroke="#333" stroke-width="0.9"/>
<line x1="306.50" y1="269.48" x2="308.50" y2="269.48" stroke="#333" stroke-width="0.9"/>
<rect x="322.00" y="276.50" width="7.30" height="76.30" fill="#fff"/>
<line x1="322.50" y1="276.15" x2="322.50" y2="352.80" stroke="#777" stroke-width="0.7"/>
<line x1="322.00" y1="276.50" x2="329.80" y2="276.50" stroke="#777" stroke-width="0.7"/>
<line x1="329.30" y1="276.15" x2="329.30" y2="352.80" stroke="#777" stroke-width="0.7"/>
<rect x="328.80" y="266.55" width="8.00" height="86.25" fill="#000"/>
<line x1="325.50" y1="262.79" x2="325.50" y2="276.05" stroke="#777" stroke-width="0.7"/>
<line x1="324.50" y1="263.14" x2="326.50" y2="263.14" stroke="#777" stroke-width="0.7"/>
<line x1="332.50" y1="259.08" x2="332.50" y2="266.55" stroke="#333" stroke-width="0.9"/>
<line x1="331.50" y1="259.53" x2="333.50" y2="259.53" stroke="#333" stroke-width="0.9"/>
<rect x="348.00" y="274.50" width="7.50" height="78.30" fill="#fff"/>
<line x1="348.50" y1="274.15" x2="348.50" y2="352.80" stroke="#777" stroke-width="0.7"/>
<line x1="348.00" y1="274.50" x2="356.00" y2="274.50" stroke="#777" stroke-width="0.7"/>
<line x1="355.50" y1="274.15" x2="355.50" y2="352.80" stroke="#777" stroke-width="0.7"/>
<rect x="355.00" y="249.81" width="8.00" height="102.99" fill="#000"/>
<line x1="351.50" y1="264.06" x2="351.50" y2="274.55" stroke="#777" stroke-width="0.7"/>
<line x1="350.50" y1="264.41" x2="352.50" y2="264.41" stroke="#777" stroke-width="0.7"/>
<line x1="359.50" y1="239.01" x2="359.50" y2="249.81" stroke="#333" stroke-width="0.9"/>
<line x1="358.50" y1="239.46" x2="360.50" y2="239.46" stroke="#333" stroke-width="0.9"/>
<line x1="360.00" y1="233.30" x2="360.00" y2="231.10" stroke="#111" stroke-width="1.2"/>
<line x1="360.00" y1="233.30" x2="362.09" y2="232.62" stroke="#111" stroke-width="1.2"/>
<line x1="360.00" y1="233.30" x2="361.29" y2="235.08" stroke="#111" stroke-width="1.2"/>
<line x1="360.00" y1="233.30" x2="358.71" y2="235.08" stroke="#111" stroke-width="1.2"/>
<line x1="360.00" y1="233.30" x2="357.91" y2="232.62" stroke="#111" stroke-width="1.2"/>
<text transform="translate(303.20,365.00) scale(0.9,1.0)" font-size="7.2" text-anchor="middle" fill="#111" font-weight="bold" stroke="#111" stroke-width="0.25">24</text>
<text transform="translate(303.20,372.80) scale(0.94,1.0)" font-size="7.2" text-anchor="middle" fill="#111" font-weight="bold" stroke="#111" stroke-width="0.25">Hours</text>
<text transform="translate(330.20,365.00) scale(0.9,1.0)" font-size="7.2" text-anchor="middle" fill="#111" font-weight="bold" stroke="#111" stroke-width="0.25">48</text>
<text transform="translate(330.20,372.80) scale(0.94,1.0)" font-size="7.2" text-anchor="middle" fill="#111" font-weight="bold" stroke="#111" stroke-width="0.25">Hours</text>
<text transform="translate(356.90,365.00) scale(0.9,1.0)" font-size="7.2" text-anchor="middle" fill="#111" font-weight="bold" stroke="#111" stroke-width="0.25">72</text>
<text transform="translate(356.90,372.80) scale(0.94,1.0)" font-size="7.2" text-anchor="middle" fill="#111" font-weight="bold" stroke="#111" stroke-width="0.25">Hours</text>
<text transform="translate(399.90,197.70)" font-size="11.4" text-anchor="start" fill="#111" font-weight="bold" stroke="#111" stroke-width="0.25">H</text>
<line x1="420.00" y1="225.50" x2="420.00" y2="352.80" stroke="#888" stroke-width="0.8"/>
<line x1="419.60" y1="353.10" x2="516.00" y2="353.10" stroke="#666" stroke-width="0.8"/>
<line x1="418.50" y1="352.30" x2="420.00" y2="352.30" stroke="#666" stroke-width="0.7"/>
<text transform="translate(417.30,355.10) scale(0.98,1.0)" font-size="7.0" text-anchor="end" fill="#111" font-weight="bold" stroke="#111" stroke-width="0.25">0</text>
<line x1="418.50" y1="327.05" x2="420.00" y2="327.05" stroke="#666" stroke-width="0.7"/>
<text transform="translate(417.30,329.70) scale(0.98,1.0)" font-size="7.0" text-anchor="end" fill="#111" font-weight="bold" stroke="#111" stroke-width="0.25">5</text>
<line x1="418.50" y1="301.80" x2="420.00" y2="301.80" stroke="#666" stroke-width="0.7"/>
<text transform="translate(417.30,304.30) scale(0.98,1.0)" font-size="7.0" text-anchor="end" fill="#111" font-weight="bold" stroke="#111" stroke-width="0.25">10</text>
<line x1="418.50" y1="276.55" x2="420.00" y2="276.55" stroke="#666" stroke-width="0.7"/>
<text transform="translate(417.30,278.90) scale(0.98,1.0)" font-size="7.0" text-anchor="end" fill="#111" font-weight="bold" stroke="#111" stroke-width="0.25">15</text>
<line x1="418.50" y1="251.30" x2="420.00" y2="251.30" stroke="#666" stroke-width="0.7"/>
<text transform="translate(417.30,253.50) scale(0.98,1.0)" font-size="7.0" text-anchor="end" fill="#111" font-weight="bold" stroke="#111" stroke-width="0.25">20</text>
<line x1="418.50" y1="226.05" x2="420.00" y2="226.05" stroke="#666" stroke-width="0.7"/>
<text transform="translate(417.30,228.10) scale(0.98,1.0)" font-size="7.0" text-anchor="end" fill="#111" font-weight="bold" stroke="#111" stroke-width="0.25">25</text>
<text transform="translate(405.60,285.40) rotate(-90)" font-size="8.5" text-anchor="middle" fill="#111" font-weight="bold" stroke="#111" stroke-width="0.25">%&#160;&#160;S-phase in spleen</text>
<rect x="425.50" y="205.80" width="6.80" height="6.20" fill="#fff" stroke="#777" stroke-width="0.8"/>
<text transform="translate(434.70,210.10) scale(0.92,1.0)" font-size="6.9" text-anchor="start" fill="#111" font-weight="bold" letter-spacing="0.25" stroke="#111" stroke-width="0.25">DPBS</text>
<rect x="425.30" y="216.70" width="7.60" height="5.90" fill="#000"/>
<text transform="translate(434.70,221.30) scale(0.94,1.0)" font-size="6.9" text-anchor="start" fill="#111" font-weight="bold" letter-spacing="0.25" stroke="#111" stroke-width="0.25">NXPH1</text>
<rect x="432.00" y="286.50" width="8.00" height="66.30" fill="#fff"/>
<line x1="432.50" y1="286.15" x2="432.50" y2="352.80" stroke="#777" stroke-width="0.7"/>
<line x1="432.00" y1="286.50" x2="440.50" y2="286.50" stroke="#777" stroke-width="0.7"/>
<line x1="440.00" y1="286.15" x2="440.00" y2="352.80" stroke="#777" stroke-width="0.7"/>
<rect x="439.50" y="330.28" width="8.00" height="22.52" fill="#000"/>
<line x1="435.50" y1="270.49" x2="435.50" y2="286.65" stroke="#777" stroke-width="0.7"/>
<line x1="443.50" y1="317.46" x2="443.50" y2="330.28" stroke="#444" stroke-width="0.8"/>
<rect x="459.00" y="295.50" width="7.80" height="57.30" fill="#fff"/>
<line x1="459.50" y1="295.15" x2="459.50" y2="352.80" stroke="#777" stroke-width="0.7"/>
<line x1="459.00" y1="295.50" x2="467.30" y2="295.50" stroke="#777" stroke-width="0.7"/>
<line x1="466.80" y1="295.15" x2="466.80" y2="352.80" stroke="#777" stroke-width="0.7"/>
<rect x="466.30" y="294.73" width="8.20" height="58.07" fill="#000"/>
<line x1="462.50" y1="277.31" x2="462.50" y2="295.24" stroke="#777" stroke-width="0.7"/>
<line x1="470.50" y1="277.81" x2="470.50" y2="294.73" stroke="#444" stroke-width="0.8"/>
<rect x="485.00" y="296.50" width="8.00" height="56.30" fill="#fff"/>
<line x1="485.50" y1="296.15" x2="485.50" y2="352.80" stroke="#777" stroke-width="0.7"/>
<line x1="485.00" y1="296.50" x2="493.50" y2="296.50" stroke="#777" stroke-width="0.7"/>
<line x1="493.00" y1="296.15" x2="493.00" y2="352.80" stroke="#777" stroke-width="0.7"/>
<rect x="492.50" y="263.93" width="8.30" height="88.88" fill="#000"/>
<line x1="488.50" y1="292.21" x2="488.50" y2="296.75" stroke="#777" stroke-width="0.7"/>
<line x1="496.50" y1="236.66" x2="496.50" y2="263.93" stroke="#444" stroke-width="0.8"/>
<line x1="443.80" y1="310.00" x2="443.80" y2="307.90" stroke="#111" stroke-width="1.2"/>
<line x1="443.80" y1="310.00" x2="445.80" y2="309.35" stroke="#111" stroke-width="1.2"/>
<line x1="443.80" y1="310.00" x2="445.03" y2="311.70" stroke="#111" stroke-width="1.2"/>
<line x1="443.80" y1="310.00" x2="442.57" y2="311.70" stroke="#111" stroke-width="1.2"/>
<line x1="443.80" y1="310.00" x2="441.80" y2="309.35" stroke="#111" stroke-width="1.2"/>
<line x1="496.80" y1="229.30" x2="496.80" y2="227.10" stroke="#111" stroke-width="1.2"/>
<line x1="496.80" y1="229.30" x2="498.89" y2="228.62" stroke="#111" stroke-width="1.2"/>
<line x1="496.80" y1="229.30" x2="498.09" y2="231.08" stroke="#111" stroke-width="1.2"/>
<line x1="496.80" y1="229.30" x2="495.51" y2="231.08" stroke="#111" stroke-width="1.2"/>
<line x1="496.80" y1="229.30" x2="494.71" y2="228.62" stroke="#111" stroke-width="1.2"/>
<text transform="translate(438.80,365.00) scale(0.9,1.0)" font-size="7.2" text-anchor="middle" fill="#111" font-weight="bold" stroke="#111" stroke-width="0.25">24</text>
<text transform="translate(439.40,373.00) scale(0.95,1.0)" font-size="7.2" text-anchor="middle" fill="#111" font-weight="bold" stroke="#111" stroke-width="0.25">Hours</text>
<text transform="translate(465.80,365.00) scale(0.9,1.0)" font-size="7.2" text-anchor="middle" fill="#111" font-weight="bold" stroke="#111" stroke-width="0.25">48</text>
<text transform="translate(466.40,373.00) scale(0.95,1.0)" font-size="7.2" text-anchor="middle" fill="#111" font-weight="bold" stroke="#111" stroke-width="0.25">Hours</text>
<text transform="translate(491.30,365.00) scale(0.9,1.0)" font-size="7.2" text-anchor="middle" fill="#111" font-weight="bold" stroke="#111" stroke-width="0.25">72</text>
<text transform="translate(491.90,373.00) scale(0.95,1.0)" font-size="7.2" text-anchor="middle" fill="#111" font-weight="bold" stroke="#111" stroke-width="0.25">Hours</text>
</svg>
</body></html>
